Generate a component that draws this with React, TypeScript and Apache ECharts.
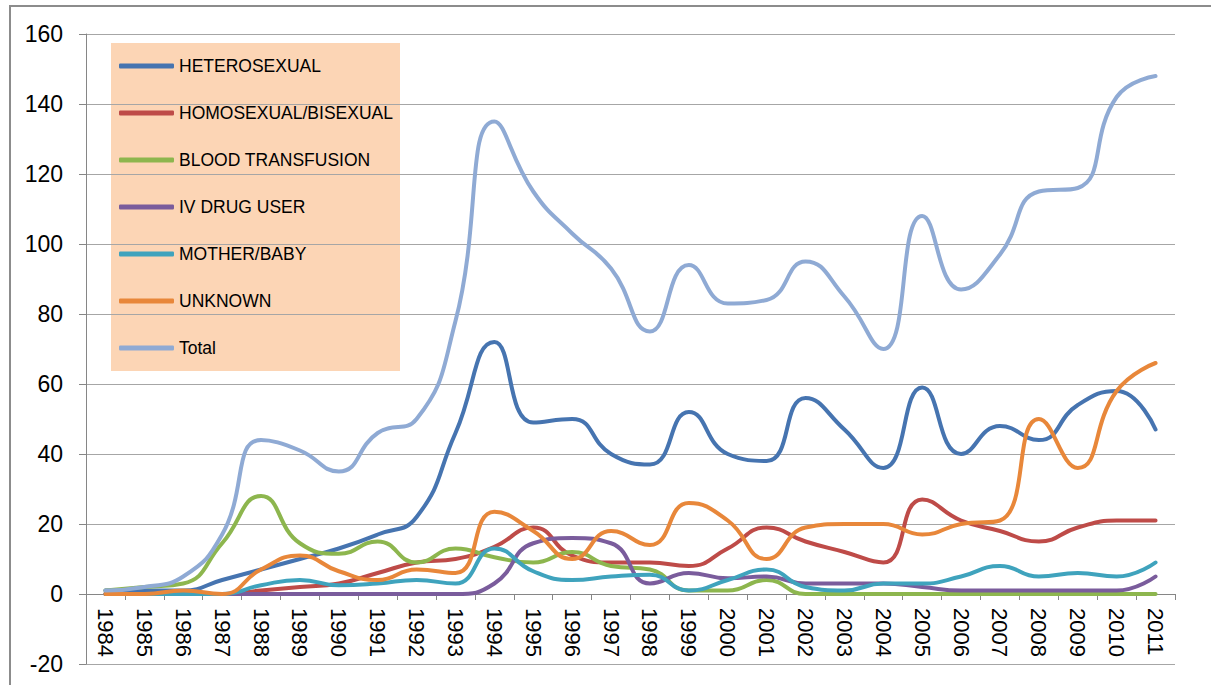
import React, { useEffect, useRef } from "react";
import * as echarts from "echarts";

const years = [
  "1984", "1985", "1986", "1987", "1988", "1989", "1990", "1991", "1992", "1993",
  "1994", "1995", "1996", "1997", "1998", "1999", "2000", "2001", "2002", "2003",
  "2004", "2005", "2006", "2007", "2008", "2009", "2010", "2011",
];

const heterosexual = [1, 1, 1, 4, 7, 10, 13, 17, 22, 46, 72, 49, 50, 40, 37, 52, 40, 38, 56, 47, 36, 59, 40, 48, 44, 54, 58, 47];
const homosexual = [0, 0, 0, 0, 1, 2, 3, 6, 9, 10, 13.5, 19, 11, 9, 9, 8, 13, 19, 15, 12, 9, 27, 21, 18, 15, 19, 21, 21];
const bloodTransfusion = [1, 2, 3, 14.5, 28, 14.5, 11.5, 15, 9, 13, 10.5, 9, 12, 8, 7, 1, 1, 4, 0, 0, 0, 0, 0, 0, 0, 0, 0, 0];
const ivDrugUser = [0, 0, 0, 0, 0, 0, 0, 0, 0, 0, 3, 14.5, 16, 14.5, 3, 6, 4.5, 5, 3, 3, 3, 2, 1, 1, 1, 1, 1, 5];
const motherBaby = [0, 0, 0, 0, 2.5, 4, 2.5, 3, 4, 3, 13, 6.5, 4, 5, 5.5, 1, 4, 7, 2, 1, 3, 3, 5, 8, 5, 6, 5, 9];
const unknown = [0, 0, 1, 0, 7, 11, 6.5, 4, 7, 6, 23.5, 18, 10, 18, 14, 26, 21, 10, 19, 20, 20, 17, 20, 21, 50, 36, 58, 66];
const total = [1, 2, 5, 17, 44, 41, 35, 46, 50, 78, 135, 115, 103, 93, 75, 94, 83, 84, 95, 85, 70, 108, 87, 97, 115, 116, 142, 148];

const seriesNames = [
  "HETEROSEXUAL",
  "HOMOSEXUAL/BISEXUAL",
  "BLOOD TRANSFUSION",
  "IV DRUG USER",
  "MOTHER/BABY",
  "UNKNOWN",
  "Total",
];
const seriesData = [heterosexual, homosexual, bloodTransfusion, ivDrugUser, motherBaby, unknown, total];
const seriesColors = ["#4674B0", "#BE4B48", "#8DB64E", "#7A5C9C", "#3FA3BD", "#E8873A", "#8FAAD4"];

const FONT = "'Liberation Sans', Arial, sans-serif";

export default function App() {
  const ref = useRef<HTMLDivElement>(null);

  useEffect(() => {
    document.body.style.margin = "0";
    if (!ref.current) return;
    const chart = echarts.init(ref.current, undefined, { renderer: "svg" });
    chart.setOption({
      animation: false,
      backgroundColor: "#ffffff",
      textStyle: { fontFamily: FONT },
      graphic: [
        {
          type: "rect",
          z: -10,
          silent: true,
          shape: { x: 10, y: 6, width: 1230, height: 720 },
          style: { fill: "none", stroke: "#8c8c8c", lineWidth: 2 },
        },
        {
          type: "rect",
          z: 0,
          silent: true,
          shape: { x: 111, y: 43, width: 289, height: 328 },
          style: { fill: "#FCD5B5" },
        },
      ],
      legend: {
        orient: "vertical",
        left: 111,
        top: 43,
        padding: [13, 8, 14, 8],
        itemGap: 27,
        itemWidth: 55,
        itemHeight: 5,
        icon: "roundRect",
        z: 10,
        textStyle: { fontSize: 17.5, lineHeight: 20, color: "#000", fontFamily: FONT },
        data: seriesNames,
      },
      grid: {
        left: 86,
        right: 36,
        top: 34,
        bottom: 21,
        containLabel: false,
        outerBoundsMode: "none",
      },
      xAxis: {
        type: "category",
        data: years,
        boundaryGap: true,
        position: "bottom",
        offset: -70,
        axisLine: { onZero: false, lineStyle: { color: "#868686", width: 1 } },
        axisTick: { show: true, interval: 0, length: 6, lineStyle: { color: "#868686" } },
        axisLabel: { interval: 0, rotate: -90, fontSize: 22, color: "#000", margin: 14, fontFamily: FONT },
        splitLine: { show: false },
      },
      yAxis: {
        type: "value",
        min: -20,
        max: 160,
        interval: 20,
        axisLine: { show: true, lineStyle: { color: "#868686", width: 1 } },
        axisTick: { show: true, length: 7, lineStyle: { color: "#868686" } },
        axisLabel: { fontSize: 23, color: "#000", margin: 23, fontFamily: FONT },
        splitLine: { show: true, lineStyle: { color: "#A6A6A6", width: 1 } },
      },
      series: seriesNames.map((name, i) => ({
        name,
        type: "line",
        data: seriesData[i],
        smooth: 0.5,
        showSymbol: false,
        symbol: "none",
        color: seriesColors[i],
        lineStyle: { width: 4, color: seriesColors[i], cap: "round", join: "round" },
        z: 2 + i,
      })),
    });
    return () => chart.dispose();
  }, []);

  return <div ref={ref} style={{ width: 1211, height: 685 }} />;
}
